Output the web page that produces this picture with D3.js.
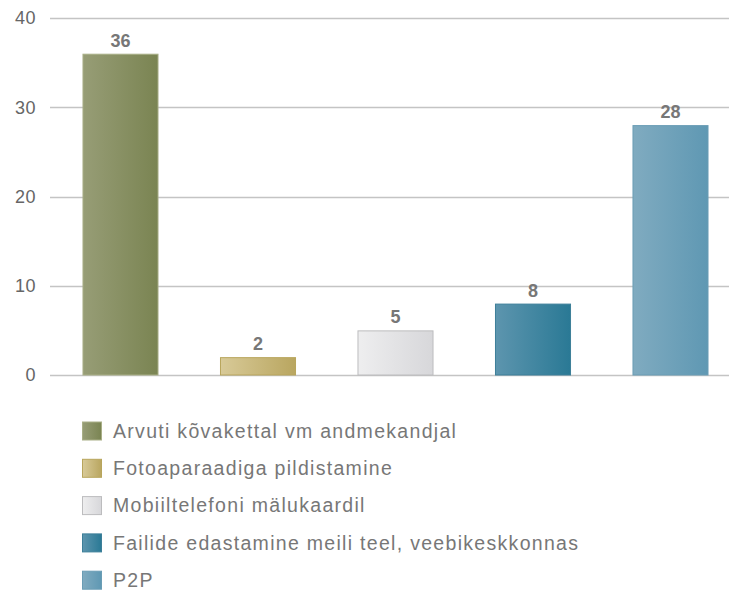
<!DOCTYPE html>
<html>
<head>
<meta charset="utf-8">
<script src="https://cdn.jsdelivr.net/npm/d3@7"></script>
<style>
  body { margin: 0; background: #fff; }
  text { font-family: "Liberation Sans", Arial, sans-serif; }
</style>
</head>
<body>
<script>
// andmed
const categories = [
  "Arvuti kõvakettal vm andmekandjal",
  "Fotoaparaadiga pildistamine",
  "Mobiiltelefoni mälukaardil",
  "Failide edastamine meili teel, veebikeskkonnas",
  "P2P"
];
const values = [36, 2, 5, 8, 28];
const yTicks = [0, 10, 20, 30, 40];
const gradStops = [
  ["#979d76", "#7a8452"],
  ["#d8ca98", "#b9a660"],
  ["#eeeeef", "#d7d7da"],
  ["#5d95ae", "#2a7995"],
  ["#80abc0", "#5f98b3"]
];
const strokes = ["#a9af87", "#b8a55c", "#bcbcbe", "#3d7f99", "#6a9db5"];

const W = 729, H = 590;
const svg = d3.select("body").append("svg").attr("width", W).attr("height", H);

const defs = svg.append("defs");
gradStops.forEach((g, i) => {
  const lg = defs.append("linearGradient").attr("id", "g" + i)
    .attr("x1", "0%").attr("x2", "100%").attr("y1", "0%").attr("y2", "0%");
  lg.append("stop").attr("offset", "0%").attr("stop-color", g[0]);
  lg.append("stop").attr("offset", "100%").attr("stop-color", g[1]);
});

const x = d3.scaleBand().domain(categories).range([51.75, 739.25])
  .paddingInner(0.447).paddingOuter(0.2235);
const y = d3.scaleLinear().domain([0, 40]).range([375, 18]);

// ruudustik
svg.append("g").selectAll("line").data(yTicks).enter().append("line")
  .attr("x1", 50).attr("x2", W)
  .attr("y1", d => Math.round(y(d)) + 0.5).attr("y2", d => Math.round(y(d)) + 0.5)
  .attr("stroke", "#c4c4c4").attr("stroke-width", 1.3);

svg.append("g").selectAll("text").data(yTicks).enter().append("text")
  .attr("x", 36).attr("y", d => y(d)).attr("dy", "0.35em")
  .attr("text-anchor", "end").attr("font-size", 18).attr("fill", "#666")
  .attr("letter-spacing", 0.5)
  .text(d => d);

// tulbad
svg.append("g").selectAll("rect").data(values).enter().append("rect")
  .attr("x", (d, i) => x(categories[i]) + 0.5)
  .attr("y", d => y(d) + 0.5)
  .attr("width", x.bandwidth() - 1)
  .attr("height", d => y(0) - y(d) - 0.5)
  .attr("fill", (d, i) => "url(#g" + i + ")")
  .attr("stroke", (d, i) => strokes[i]).attr("stroke-width", 1);

svg.append("g").selectAll("text").data(values).enter().append("text")
  .attr("x", (d, i) => x(categories[i]) + x.bandwidth() / 2)
  .attr("y", d => y(d) - 7)
  .attr("text-anchor", "middle").attr("font-size", 18).attr("font-weight", "bold")
  .attr("fill", "#777")
  .text(d => d);

// legend
const leg = svg.append("g").selectAll("g").data(categories).enter().append("g")
  .attr("transform", (d, i) => `translate(82, ${431 + i * 37.3})`);
leg.append("rect").attr("x", 0.5).attr("y", -9).attr("width", 19).attr("height", 18)
  .attr("fill", (d, i) => "url(#g" + i + ")")
  .attr("stroke", (d, i) => strokes[i]).attr("stroke-width", 1);
leg.append("text").attr("x", 31).attr("y", 0).attr("dy", "0.35em")
  .attr("font-size", 19.5).attr("letter-spacing", 1.3).attr("fill", "#777")
  .text(d => d);
</script>
</body>
</html>
